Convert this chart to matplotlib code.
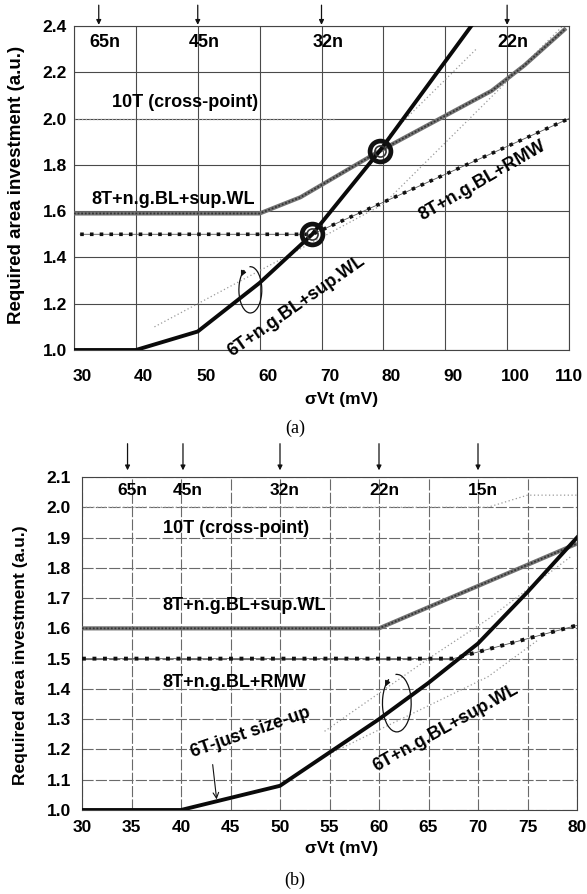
import numpy as np
import matplotlib
matplotlib.use("Agg")
import matplotlib.pyplot as plt
from matplotlib.patches import Arc
from matplotlib.transforms import ScaledTranslation

plt.rcParams['font.family'] = ['Liberation Sans', 'DejaVu Sans']

# ---------------- data: panel (a) ----------------
a_x_6t = [30, 40, 50, 60, 68.5, 79.4, 94.2]
a_y_6t = [1.0, 1.0, 1.08, 1.29, 1.5, 1.86, 2.4]
a_x_8t_wl = [30, 60, 66.6, 79.4, 97.5, 102.8, 109.5]
a_y_8t_wl = [1.59, 1.59, 1.66, 1.86, 2.12, 2.23, 2.39]
a_x_rmw = [31, 68.5, 110]
a_y_rmw = [1.5, 1.5, 2.0]
a_x_10t = [30, 72]
a_y_10t = [2.0, 2.0]
a_x_6t_alt = [43, 64, 80, 109]
a_y_6t_alt = [1.10, 1.40, 1.63, 2.40]
a_x_6t_alt2 = [81, 95]
a_y_6t_alt2 = [1.93, 2.30]
a_cross_x = [68.5, 79.4]
a_cross_y = [1.5, 1.86]
a_nodes = ['65n', '45n', '32n', '22n']
a_node_x = [34, 50, 70, 100]
a_xticks = [30, 40, 50, 60, 70, 80, 90, 100, 110]
a_yticks = [1.0, 1.2, 1.4, 1.6, 1.8, 2.0, 2.2, 2.4]

# ---------------- data: panel (b) ----------------
b_x_6t = [30, 40, 50, 55, 60, 65, 70, 75, 80]
b_y_6t = [1.0, 1.0, 1.08, 1.19, 1.30, 1.42, 1.55, 1.72, 1.90]
b_x_8t_wl = [30, 60, 80]
b_y_8t_wl = [1.6, 1.6, 1.88]
b_x_rmw = [30, 67.5, 80]
b_y_rmw = [1.5, 1.5, 1.61]
b_x_10t = [30, 71, 75, 80]
b_y_10t = [2.0, 2.0, 2.04, 2.04]
b_x_6t_alt = [54.5, 65, 71, 79.5]
b_y_6t_alt = [1.26, 1.50, 1.63, 1.84]
b_x_6t_alt2 = [55.3, 71, 76]
b_y_6t_alt2 = [1.19, 1.44, 1.56]
b_nodes = ['65n', '45n', '32n', '22n', '15n']
b_node_x = [34.6, 40.2, 50, 60, 70]
b_xticks = [30, 35, 40, 45, 50, 55, 60, 65, 70, 75, 80]
b_yticks = [1.0, 1.1, 1.2, 1.3, 1.4, 1.5, 1.6, 1.7, 1.8, 1.9, 2.0, 2.1]

W, H = 587, 894
fig = plt.figure(figsize=(W / 100, H / 100), dpi=100)


def add_axes_px(left, top, right, bottom):
    return fig.add_axes([left / W, 1 - bottom / H, (right - left) / W, (bottom - top) / H])


def draw_hatched(ax, x, y):
    # textured gray line: gray body with fine dark dashes
    ax.plot(x, y, color='#747474', lw=3.0, solid_capstyle='butt', zorder=4)
    ax.plot(x, y, color='#1e1e1e', lw=1.3, ls=(0, (1.0, 1.0)), alpha=0.75, zorder=4)


def draw_rmw(ax, x, y, lw=2.6):
    ax.plot(x, y, color='#555555', lw=0.6, zorder=3)
    ax.plot(x, y, color='#111111', lw=lw, ls=(0, (1.0, 1.7)), dash_capstyle='butt', zorder=4)


def draw_faint(ax, x, y):
    ax.plot(x, y, color='#9a9a9a', lw=0.9, ls=(0, (1.0, 2.0)), zorder=2)


def loop_arrow(ax, cx, cy, w, h):
    ax.add_patch(Arc((cx, cy), w, h, theta1=175, theta2=505, color='#111111', lw=0.9, zorder=6))
    t_end = np.deg2rad(145)
    t_pre = np.deg2rad(125)
    p_end = (cx + w / 2 * np.cos(t_end), cy + h / 2 * np.sin(t_end))
    p_pre = (cx + w / 2 * np.cos(t_pre), cy + h / 2 * np.sin(t_pre))
    ax.annotate('', xy=p_end, xytext=p_pre,
                arrowprops=dict(arrowstyle='-|>', color='#111111', lw=0.9,
                                mutation_scale=8, shrinkA=0, shrinkB=0), zorder=6)


def style_axes(ax, xt, yt, grid_color, grid_ls, xpad, ypad):
    ax.set_xticks(xt)
    ax.set_yticks(yt)
    ax.set_xticklabels([f'{v:g}' for v in xt], fontsize=12.5, fontweight='bold')
    ax.set_yticklabels([f'{v:.1f}' for v in yt], fontsize=12.5, fontweight='bold')
    ax.tick_params(axis='x', length=0, pad=xpad)
    ax.tick_params(axis='y', length=0, pad=ypad)
    ax.grid(True, color=grid_color, lw=0.8, ls=grid_ls)
    ax.set_axisbelow(True)
    for s in ax.spines.values():
        s.set_color('#444444')
        s.set_linewidth(0.8)


# ================= panel (a) =================
ax = add_axes_px(74, 26, 569, 350)
ax.set_xlim(30, 110)
ax.set_ylim(1.0, 2.4)
style_axes(ax, a_xticks, a_yticks, '#4a4a4a', '-', 14, 5)
# labels sit a little right of their grid lines
for i, lab in enumerate(ax.get_xticklabels()):
    dx = 0 if i == len(a_xticks) - 1 else 8 / 100
    lab.set_transform(lab.get_transform() + ScaledTranslation(dx, 0, fig.dpi_scale_trans))

draw_faint(ax, a_x_10t, a_y_10t)
draw_faint(ax, a_x_6t_alt, a_y_6t_alt)
draw_faint(ax, a_x_6t_alt2, a_y_6t_alt2)
draw_hatched(ax, a_x_8t_wl, a_y_8t_wl)
draw_rmw(ax, a_x_rmw, a_y_rmw)
ax.plot(a_x_6t, a_y_6t, color='#0a0a0a', lw=2.8, solid_joinstyle='miter', zorder=5, clip_on=True)
ax.plot(a_cross_x, a_cross_y, ls='none', marker='o', ms=15, mfc='none', mec='#111111', mew=3.4, zorder=7)
ax.plot(a_cross_x, a_cross_y, ls='none', marker='o', ms=8, mfc='none', mec='#333333', mew=1.2, zorder=7)

for name, xv in zip(a_nodes, a_node_x):
    ax.annotate('', xy=(xv, 2.405), xytext=(xv, 2.49), annotation_clip=False,
                arrowprops=dict(arrowstyle='-|>', color='#111111', lw=0.9, mutation_scale=7,
                                shrinkA=0, shrinkB=0))
    ax.text(xv + 1.0, 2.33, name, ha='center', va='center', fontsize=13, fontweight='bold')

ax.text(48, 2.07, '10T (cross-point)', ha='center', va='center', fontsize=13, fontweight='bold')
ax.text(46, 1.65, '8T+n.g.BL+sup.WL', ha='center', va='center', fontsize=13, fontweight='bold')
ax.text(96, 1.73, '8T+n.g.BL+RMW', ha='center', va='center', fontsize=13, fontweight='bold',
        rotation=30, rotation_mode='anchor')
ax.text(66, 1.19, '6T+n.g.BL+sup.WL', ha='center', va='center', fontsize=13, fontweight='bold',
        rotation=35, rotation_mode='anchor')
loop_arrow(ax, 58.5, 1.26, 3.7, 0.20)

ax.set_ylabel('Required area investment (a.u.)', fontsize=13.5, fontweight='bold')
ax.yaxis.set_label_coords(-0.099, 0.51)
fig.text(342 / W, 1 - 399 / H, 'σVt (mV)', ha='center', va='center', fontsize=12.5, fontweight='bold')
fig.text(295 / W, 1 - 428 / H, '(a)', ha='center', va='center', fontsize=13,
         family=['Liberation Serif', 'DejaVu Serif'])

# ================= panel (b) =================
bx = add_axes_px(82, 477, 577, 810)
bx.set_xlim(30, 80)
bx.set_ylim(1.0, 2.1)
style_axes(bx, b_xticks, b_yticks, '#6a6a6a', (0, (10, 2)), 7, 8)

draw_faint(bx, b_x_10t, b_y_10t)
draw_faint(bx, b_x_6t_alt, b_y_6t_alt)
draw_faint(bx, b_x_6t_alt2, b_y_6t_alt2)
draw_hatched(bx, b_x_8t_wl, b_y_8t_wl)
draw_rmw(bx, b_x_rmw, b_y_rmw, lw=2.8)
bx.plot(b_x_6t, b_y_6t, color='#0a0a0a', lw=2.8, zorder=5)

for name, xv in zip(b_nodes, b_node_x):
    bx.annotate('', xy=(xv, 2.122), xytext=(xv, 2.21), annotation_clip=False,
                arrowprops=dict(arrowstyle='-|>', color='#111111', lw=0.9, mutation_scale=7,
                                shrinkA=0, shrinkB=0))
    bx.text(xv + 0.5, 2.057, name, ha='center', va='center', fontsize=12.5, fontweight='bold')

bx.text(45.6, 1.93, '10T (cross-point)', ha='center', va='center', fontsize=13, fontweight='bold')
bx.text(46.4, 1.677, '8T+n.g.BL+sup.WL', ha='center', va='center', fontsize=13, fontweight='bold')
bx.text(45.4, 1.42, '8T+n.g.BL+RMW', ha='center', va='center', fontsize=13, fontweight='bold')
bx.text(47.0, 1.255, '6T-just size-up', ha='center', va='center', fontsize=13, fontweight='bold',
        rotation=19, rotation_mode='anchor')
bx.annotate('', xy=(43.6, 1.035), xytext=(43.2, 1.15),
            arrowprops=dict(arrowstyle='->', color='#111111', lw=0.8, shrinkA=0, shrinkB=0))
bx.text(66.7, 1.27, '6T+n.g.BL+sup.WL', ha='center', va='center', fontsize=13, fontweight='bold',
        rotation=29, rotation_mode='anchor')
loop_arrow(bx, 61.8, 1.353, 2.9, 0.19)

bx.set_ylabel('Required area investment (a.u.)', fontsize=12.5, fontweight='bold')
bx.yaxis.set_label_coords(-0.109, 0.465)
fig.text(342 / W, 1 - 848 / H, 'σVt (mV)', ha='center', va='center', fontsize=12.5, fontweight='bold')
fig.text(295 / W, 1 - 880 / H, '(b)', ha='center', va='center', fontsize=13,
         family=['Liberation Serif', 'DejaVu Serif'])

fig.savefig('out.png', dpi=100)
